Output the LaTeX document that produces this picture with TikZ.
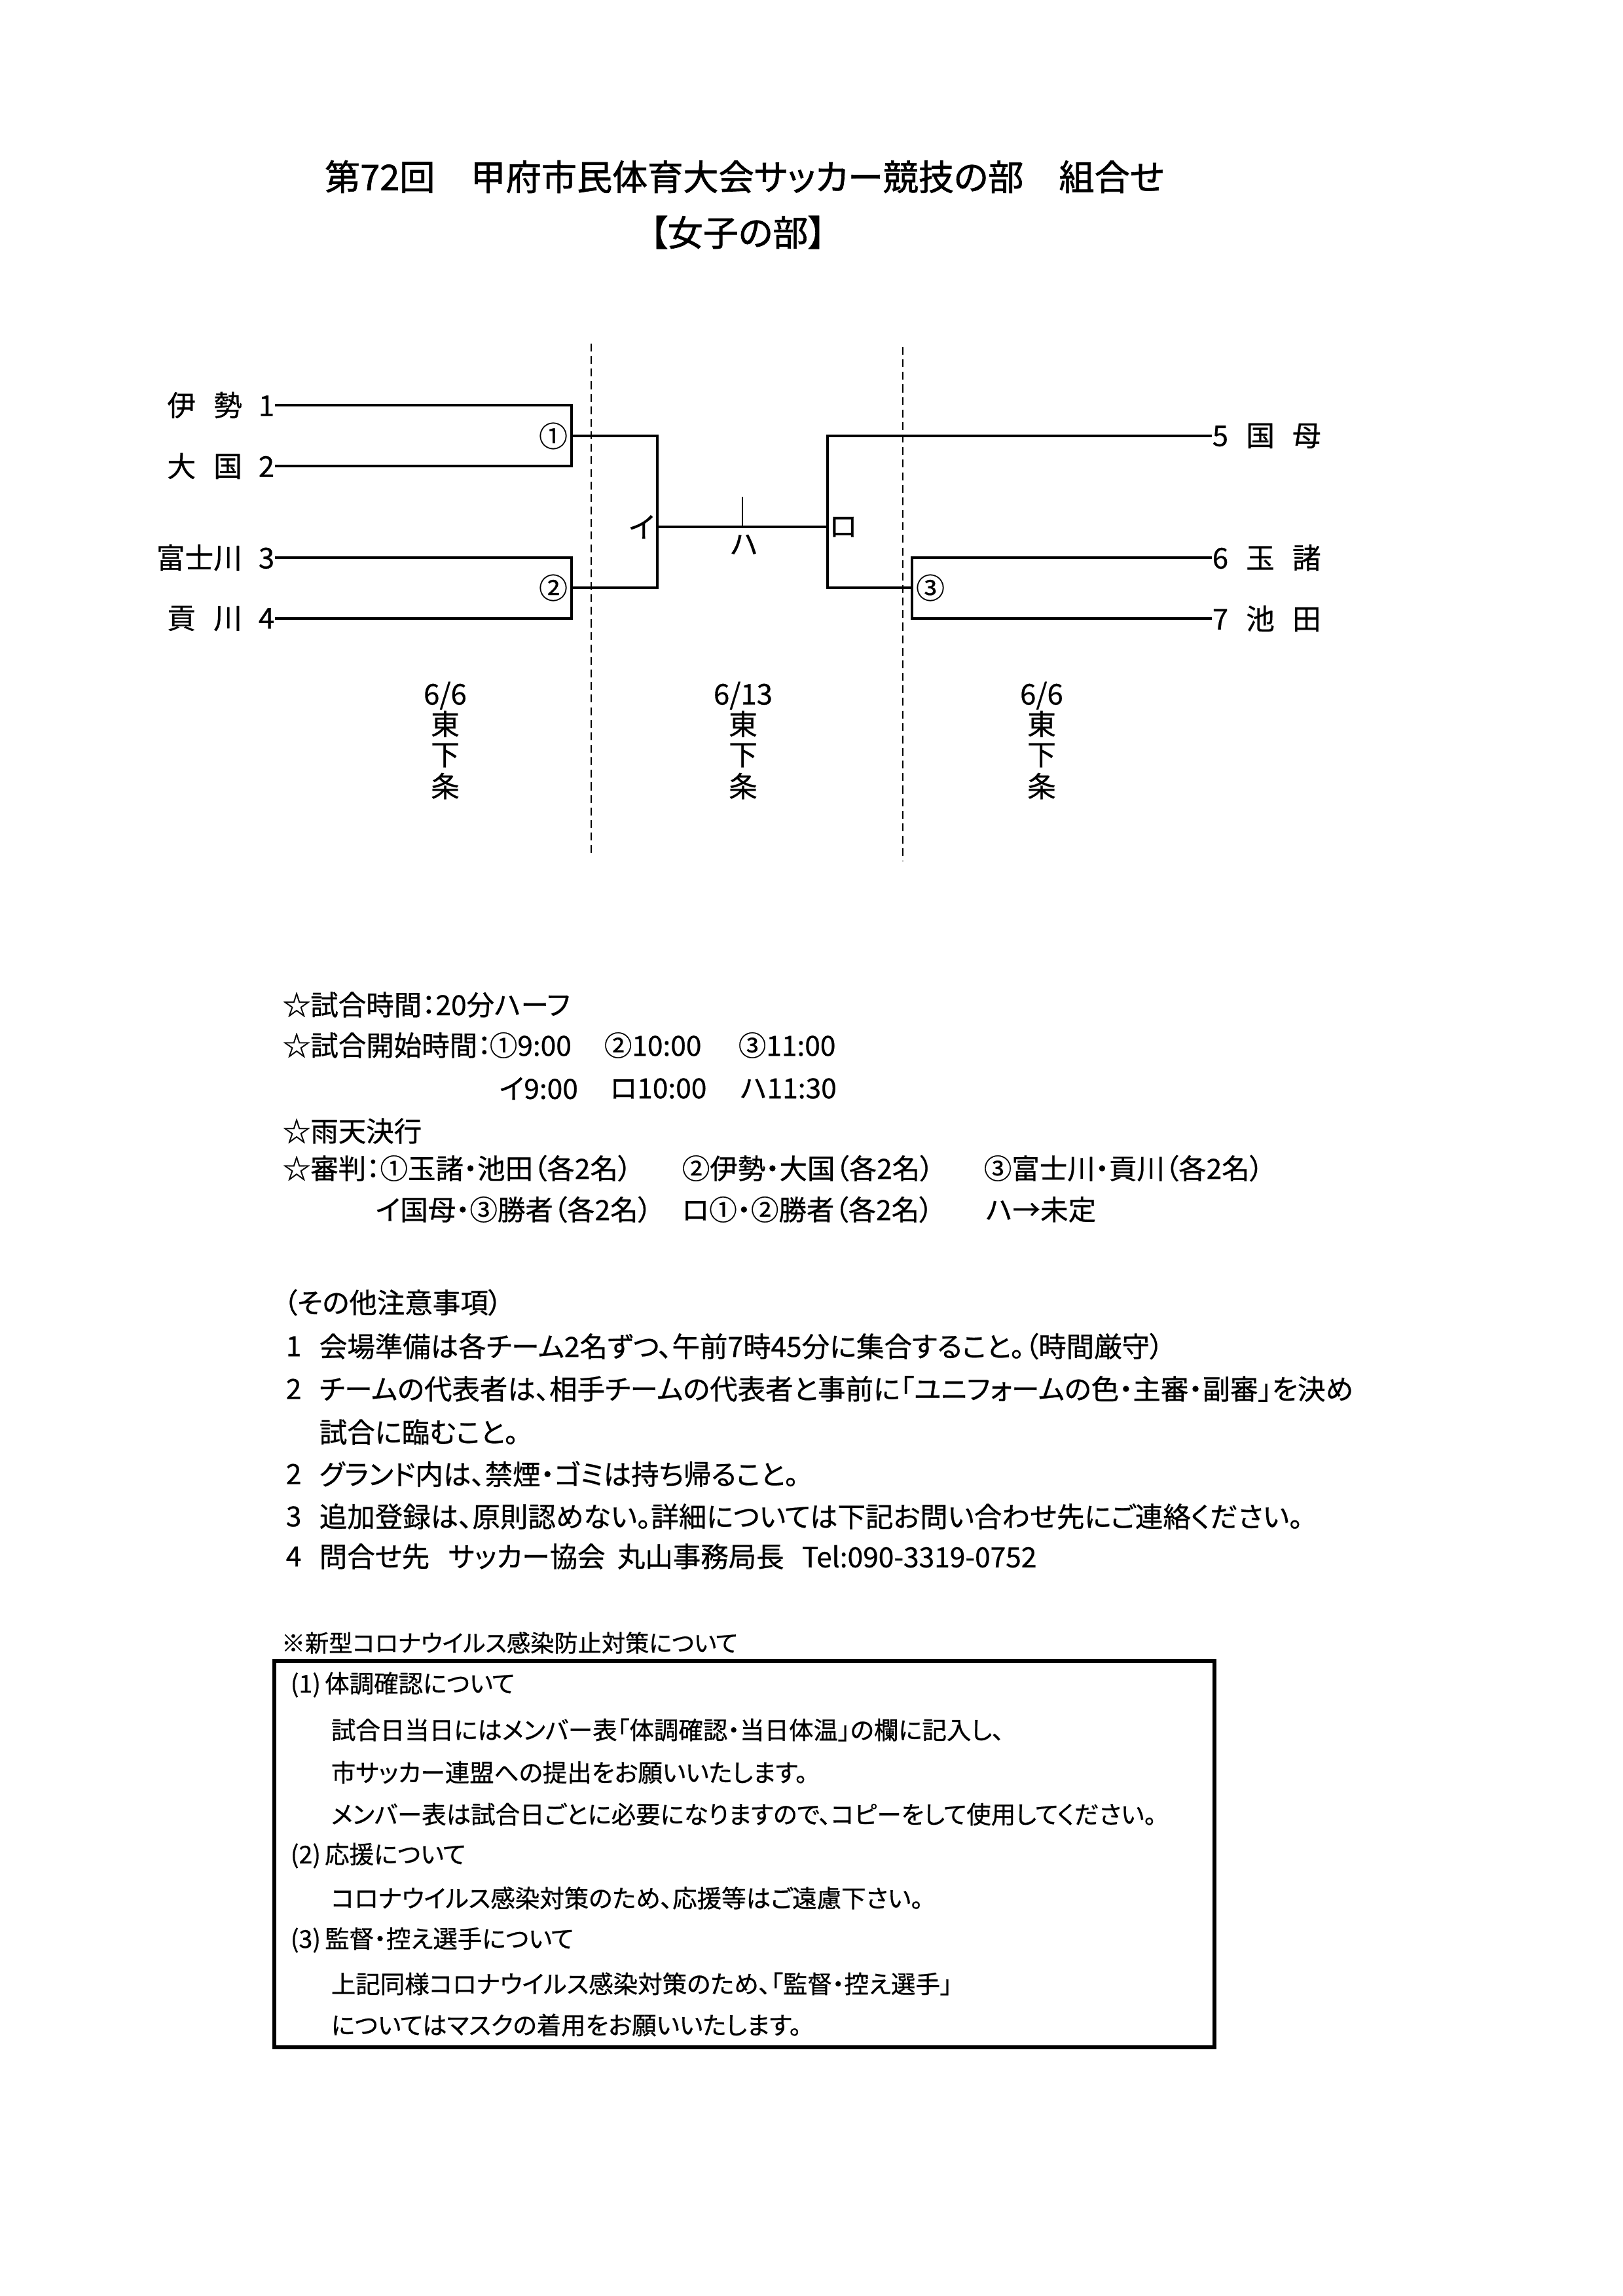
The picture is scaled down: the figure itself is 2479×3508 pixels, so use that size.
\documentclass[tikz,border=0pt]{standalone}
\usepackage{fontspec}
\setmainfont{Noto Sans CJK JP}
\newfontfamily\jp{Noto Sans CJK JP}[FakeBold=0.6]
\newfontfamily\jpp{Noto Sans CJK JP}[RawFeature=+palt, FakeBold=0.6]
\newfontfamily\jpt{Noto Sans CJK JP}[RawFeature=+palt, FakeBold=1.2]
\newcommand\titlefont{\jpt\fontsize{13pt}{15pt}\selectfont}
\newcommand\bodyfont{\jpp\fontsize{10.2pt}{12pt}\selectfont}
\newcommand\boxfont{\jpp\fontsize{9pt}{11pt}\selectfont}
\newcommand\brfont{\jp\fontsize{10.5pt}{12pt}\selectfont}
\tikzset{
  txt/.style={inner sep=0pt, anchor=west, font=\bodyfont},
  btxt/.style={inner sep=0pt, anchor=west, font=\boxfont},
  lbl/.style={inner sep=0pt, font=\brfont},
  teamL/.style={inner sep=0pt, anchor=east, font=\brfont},
  teamR/.style={inner sep=0pt, anchor=west, font=\brfont},
  brline/.style={line width=1pt},
  tick/.style={line width=0.5pt},
  dashline/.style={line width=0.5pt, dash pattern=on 2.9pt off 1.7pt},
  framebox/.style={line width=1.4pt},
}
\begin{document}
\begin{tikzpicture}[x=0.24013pt,y=-0.24013pt]
\useasboundingbox (0,0) rectangle (2479,3508);
\fill[white] (0,0) rectangle (2479,3508);

% title
\node[inner sep=0pt, font=\titlefont] (title) at (1137,270) {第72回　甲府市民体育大会サッカー競技の部　組合せ};
\node[inner sep=0pt, font=\titlefont] (sub) at (1127,355) {【女子の部】};

% dashed separators
\coordinate (d1t) at (903,525);
\coordinate (d1b) at (903,1303);
\coordinate (d2t) at (1379,530);
\coordinate (d2b) at (1379,1316);
\draw[dashline] (d1t) -- (d1b);
\draw[dashline] (d2t) -- (d2b);

% teams
\node[teamL] (t1) at (420,619) {伊\hspace{6.5pt}勢\hspace{6pt}1};
\node[teamL] (t2) at (420,712) {大\hspace{6.5pt}国\hspace{6pt}2};
\node[teamL] (t3) at (420,852) {富士川\hspace{6pt}3};
\node[teamL] (t4) at (420,945) {貢\hspace{6.5pt}川\hspace{6pt}4};
\node[teamR] (t5) at (1851,666) {5\hspace{6.5pt}国\hspace{6.5pt}母};
\node[teamR] (t6) at (1851,852) {6\hspace{6.5pt}玉\hspace{6.5pt}諸};
\node[teamR] (t7) at (1851,945) {7\hspace{6.5pt}池\hspace{6.5pt}田};

% bracket coordinates
\coordinate (m1a) at (873,619);
\coordinate (m1b) at (873,712);
\coordinate (m1) at (873,666);
\coordinate (m2a) at (873,852);
\coordinate (m2b) at (873,945);
\coordinate (m2) at (873,898);
\coordinate (i1) at (1004,666);
\coordinate (i2) at (1004,898);
\coordinate (iM) at (1004,805);
\coordinate (r1) at (1264,666);
\coordinate (r2) at (1264,898);
\coordinate (rM) at (1264,805);
\coordinate (m3a) at (1393,852);
\coordinate (m3b) at (1393,945);
\coordinate (m3) at (1393,898);
\coordinate (hTop) at (1134,759);
\coordinate (hBot) at (1134,805);

\draw[brline] (t1.east) -- (m1a) -- (m1b) -- (t2.east);
\draw[brline] (t3.east) -- (m2a) -- (m2b) -- (t4.east);
\draw[brline] (m1) -- (i1) -- (i2) -- (m2);
\draw[brline] (iM) -- (rM);
\draw[brline] (t5.west) -- (r1) -- (r2) -- (m3);
\draw[brline] (t6.west) -- (m3a) -- (m3b) -- (t7.west);
\draw[tick] (hTop) -- (hBot);

% match labels
\node[lbl] (c1) at (845,666) {①};
\node[lbl] (c2) at (845,898) {②};
\node[lbl] (c3) at (1421,898) {③};
\node[lbl] (li) at (981,805) {イ};
\node[lbl] (lro) at (1288,805) {ロ};
\node[lbl] (lha) at (1136,832) {ハ};

% dates / venues
\foreach \nm/\xx/\dd in {dA/680/6\slash6, dB/1135/6\slash13, dC/1591/6\slash6}{
  \node[lbl] (\nm d) at (\xx,1063) {\dd};
  \node[lbl] (\nm e) at (\xx,1106) {東};
  \node[lbl] (\nm f) at (\xx,1154) {下};
  \node[lbl] (\nm g) at (\xx,1201) {条};
}

% info lines
\node[txt] (l1) at (431,1535) {☆試合時間：20分ハーフ};
\node[txt] (l2) at (431,1597) {☆試合開始時間：};
\node[txt] (l2a) at (747,1597) {①9:00};
\node[txt] (l2b) at (922,1597) {②10:00};
\node[txt] (l2c) at (1127,1597) {③11:00};
\node[txt] (l3a) at (762,1663) {イ9:00};
\node[txt] (l3b) at (931,1663) {ロ10:00};
\node[txt] (l3c) at (1130,1663) {ハ11:30};
\node[txt] (l4) at (431,1728) {☆雨天決行};
\node[txt] (l5a) at (431,1785) {☆審判：①玉諸・池田（各2名）};
\node[txt] (l5b) at (1041,1785) {②伊勢・大国（各2名）};
\node[txt] (l5c) at (1502,1785) {③富士川・貢川（各2名）};
\node[txt] (l6a) at (573,1848) {イ国母・③勝者（各2名）};
\node[txt] (l6b) at (1041,1848) {ロ①・②勝者（各2名）};
\node[txt] (l6c) at (1505,1848) {ハ→未定};

% notes
\node[txt] (n0) at (432,1990) {（その他注意事項）};
\node[txt] (n1n) at (436,2057) {1};
\node[txt] (n1) at (487,2057) {会場準備は各チーム2名ずつ、午前7時45分に集合すること。（時間厳守）};
\node[txt] (n2n) at (436,2122) {2};
\node[txt] (n2) at (487,2122) {チームの代表者は、相手チームの代表者と事前に「ユニフォームの色・主審・副審」を決め};
\node[txt] (n2c) at (487,2188) {試合に臨むこと。};
\node[txt] (n3n) at (436,2252) {2};
\node[txt] (n3) at (487,2252) {グランド内は、禁煙・ゴミは持ち帰ること。};
\node[txt] (n4n) at (436,2317) {3};
\node[txt] (n4) at (487,2317) {追加登録は、原則認めない。詳細については下記お問い合わせ先にご連絡ください。};
\node[txt] (n5n) at (436,2378) {4};
\node[txt] (n5a) at (487,2378) {問合せ先};
\node[txt] (n5b) at (684,2378) {サッカー協会};
\node[txt] (n5c) at (942,2378) {丸山事務局長};
\node[txt] (n5d) at (1224,2378) {Tel:090-3319-0752};

% corona box
\node[btxt, font=\jpp\fontsize{8.7pt}{11pt}\selectfont] (k0) at (429,2510) {※新型コロナウイルス感染防止対策について};
\draw[framebox] (419,2538) rectangle (1855,3128);
\node[btxt] (k1) at (443,2574) {(1)\,体調確認について};
\node[btxt] (k1a) at (505,2643) {試合日当日にはメンバー表「体調確認・当日体温」の欄に記入し、};
\node[btxt] (k1b) at (505,2708) {市サッカー連盟への提出をお願いいたします。};
\node[btxt] (k1c) at (505,2772) {メンバー表は試合日ごとに必要になりますので、コピーをして使用してください。};
\node[btxt] (k2) at (443,2835) {(2)\,応援について};
\node[btxt] (k2a) at (505,2900) {コロナウイルス感染対策のため、応援等はご遠慮下さい。};
\node[btxt] (k3) at (443,2964) {(3)\,監督・控え選手について};
\node[btxt] (k3a) at (505,3031) {上記同様コロナウイルス感染対策のため、「監督・控え選手」};
\node[btxt] (k3b) at (505,3094) {についてはマスクの着用をお願いいたします。};
\end{tikzpicture}
\end{document}
